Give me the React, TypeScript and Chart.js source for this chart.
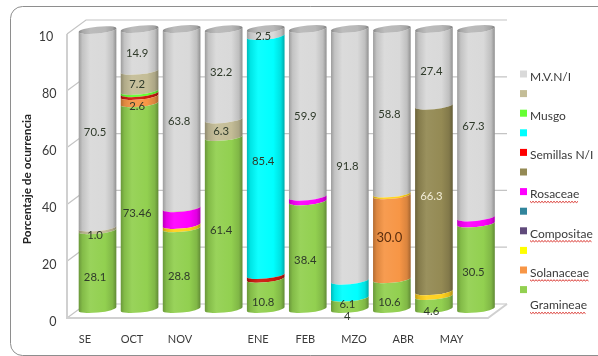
import { useEffect, useRef } from "react";
import { Chart, registerables } from "chart.js";

Chart.register(...registerables);

// Months on the x axis; two bars carry no month name.
const categories = ["SE", "OCT", "NOV", "", "ENE", "FEB", "MZO", "ABR", "MAY", ""];

// Occurrence (%) per food item, bottom of the stack first.
const gramineae = [28.1, 73.46, 28.8, 61.4, 10.8, 38.4, 4, 10.6, 4.6, 30.5];
const solanaceae = [0, 2.6, 0, 0, 0, 0, 0, 30.0, 0, 0];
const sinNombreAmarillo = [0, 0, 1.2, 0, 0, 0, 0, 0.6, 1.7, 0];
const compositae = [0, 0, 0, 0, 0, 0, 0, 0, 0, 0];
const sinNombreAzul = [0, 0, 0, 0, 0, 0, 0, 0, 0, 0];
const rosaceae = [0, 0, 6, 0, 0, 1.7, 0, 0, 0, 2.2];
const sinNombreOliva = [0, 0, 0, 0, 0, 0, 0, 0, 66.3, 0];
const semillas = [0, 1, 0, 0, 1.3, 0, 0, 0, 0, 0];
const sinNombreCian = [0, 0, 0, 0, 85.4, 0, 6.1, 0, 0, 0];
const musgo = [0, 0.8, 0, 0, 0, 0, 0, 0, 0, 0];
const sinNombreTostado = [1.0, 7.2, 0.2, 6.3, 0, 0, 0, 0, 0, 0];
const mvni = [70.5, 14.9, 63.8, 32.2, 2.5, 59.9, 91.8, 58.8, 27.4, 67.3];

// Month captions sit a little off their bars, so they get their own axis (in bar slots).
const monthCaptions = ["SE", "OCT", "NOV", "ENE", "FEB", "MZO", "ABR", "MAY"];
const monthCaptionSlots = [-0.3, 0.82, 1.96, 3.82, 4.94, 6.1, 7.27, 8.42];

const yTickValues = [0, 20, 40, 60, 80, 100];
const yTickLabels = ["0", "20", "40", "60", "80", "10 "];

const FONT = "Lato";
const exactLabels: Record<number, string> = { 4: "4" };
const SMALLEST_CAPTIONED = 0.5;

// The three vertical scales of the 3D box: pixel of value 0 and pixels per unit.
const verticalAxes: Record<string, { zeroAt: number; perUnit: number }> = {
  y: { zeroAt: 309, perUnit: 2.8 },
  yBack: { zeroAt: 304, perUnit: 2.84 },
  yLabel: { zeroAt: 322, perUnit: 2.85 },
};

function valueText(v: number) {
  if (exactLabels[v]) return exactLabels[v];
  const decimals = (String(v).split(".")[1] || "").length;
  return v.toFixed(Math.max(1, decimals));
}

function shade(hex: string, f: number) {
  const n = parseInt(hex.slice(1), 16);
  const c = [(n >> 16) & 255, (n >> 8) & 255, n & 255].map((x) =>
    Math.min(255, Math.round(f >= 1 ? x + (255 - x) * (f - 1) : x * f))
  );
  return `rgb(${c[0]},${c[1]},${c[2]})`;
}

function barGradient(ctx: CanvasRenderingContext2D, x: number, w: number, color: string) {
  const g = ctx.createLinearGradient(x - w / 2, 0, x + w / 2, 0);
  g.addColorStop(0, shade(color, 0.72));
  g.addColorStop(0.1, shade(color, 0.9));
  g.addColorStop(0.3, shade(color, 1.06));
  g.addColorStop(0.7, shade(color, 1));
  g.addColorStop(0.9, shade(color, 0.88));
  g.addColorStop(1, shade(color, 0.66));
  return g;
}

const ELLIPSE_RY = 3.5;
const ELLIPSE_TILT = -0.1;
const FRONT_BULGE = 3.5;
const CAPTION_SHIFT_X = -2.5;

// Small vertical adjustments of value captions, "dataset:bar" -> px.
const captionNudge: Record<string, number> = {
  "0:0": 4, "0:1": 4, "0:2": 4, "0:3": 4, "0:4": 5, "0:5": 2, "0:6": 9, "0:7": 5, "0:8": 5, "0:9": 3,
  "10:0": 3, "11:3": -6, "11:6": 8, "8:6": 12, "6:8": -6, "1:1": 3, "1:7": -3, "8:4": 2,
};

const cylinderPlugin = {
  id: "cylinders",
  afterLayout(chart: any) {
    // Fix each vertical scale to its own pixel mapping within the final chart area.
    const { top, bottom } = chart.chartArea;
    Object.keys(verticalAxes).forEach((id) => {
      const { zeroAt, perUnit } = verticalAxes[id];
      const scale = chart.scales[id];
      scale.min = (zeroAt - bottom) / perUnit;
      scale.max = (zeroAt - top) / perUnit;
      scale.configure();
    });
  },
  beforeDraw(chart: any) {
    const { ctx, scales } = chart;
    ctx.save();
    // Rounded chart frame running off the right edge of the canvas.
    ctx.strokeStyle = "#8e8e8e";
    ctx.lineWidth = 1;
    ctx.beginPath();
    ctx.roundRect(10.5, 6.5, 640, 349, 12);
    ctx.stroke();

    // Walls and floor of the 3D box.
    const back = scales.yBack;
    const dx = 19;
    const dy = 14;
    const left = 67;
    const right = 507;
    ctx.strokeStyle = "#c4c4c4";
    ctx.lineWidth = 1.2;
    yTickValues.forEach((v) => {
      const py = back.getPixelForValue(v);
      ctx.beginPath();
      ctx.moveTo(left, py + dy);
      ctx.lineTo(left + dx, py);
      ctx.lineTo(right, py);
      ctx.stroke();
    });
    const y0 = back.getPixelForValue(0);
    const y100 = back.getPixelForValue(100);
    ctx.strokeStyle = "#d0d0d0";
    ctx.lineWidth = 2;
    ctx.beginPath();
    ctx.moveTo(left, y100 + dy);
    ctx.lineTo(left, y0 + dy);
    ctx.lineTo(right - dx, y0 + dy);
    ctx.lineTo(right, y0);
    ctx.stroke();
    ctx.restore();
  },
  beforeDatasetDraw(chart: any, args: any) {
    const { ctx, scales } = chart;
    const ds = chart.data.datasets[args.index];
    const limit = scales.y.getPixelForValue(100);
    const isTop = args.index === chart.data.datasets.length - 1;
    ctx.save();
    args.meta.data.forEach((el: any, i: number) => {
      if (!ds.data[i]) return;
      const rx = el.width / 2;
      const top = Math.max(el.y, limit);
      const base = Math.max(el.base, limit);
      ctx.fillStyle = barGradient(ctx, el.x, el.width, ds.barColor || ds.backgroundColor);
      ctx.beginPath();
      ctx.ellipse(el.x, top, rx, ELLIPSE_RY, ELLIPSE_TILT, Math.PI, 0, true);
      ctx.ellipse(el.x, base, rx, ELLIPSE_RY, ELLIPSE_TILT, 0, Math.PI, false);
      ctx.closePath();
      ctx.fill();
      if (isTop) {
        ctx.fillStyle = barGradient(ctx, el.x, el.width, "#b8b8b8");
        ctx.beginPath();
        ctx.ellipse(el.x, top, rx, ELLIPSE_RY, ELLIPSE_TILT, 0, Math.PI * 2);
        ctx.fill();
      }
    });
    ctx.restore();
    return false;
  },
  afterDatasetsDraw(chart: any) {
    const { ctx, scales } = chart;
    const limit = scales.y.getPixelForValue(100);
    ctx.save();
    ctx.textAlign = "center";
    ctx.textBaseline = "middle";
    chart.data.datasets.forEach((ds: any, d: number) => {
      if (!ds.showValues) return;
      chart.getDatasetMeta(d).data.forEach((el: any, i: number) => {
        const v = ds.data[i];
        if (!v || v < SMALLEST_CAPTIONED) return;
        const big = v === 30;
        ctx.font = `${big ? 13 : 11.3}px ${FONT}`;
        ctx.fillStyle = big ? "#5c2e0e" : v === 66.3 ? "#f2edd8" : "#2f3a2a";
        const mid = (Math.max(el.y, limit) + el.base) / 2 + FRONT_BULGE;
        ctx.fillText(valueText(v), el.x + CAPTION_SHIFT_X, mid + (captionNudge[`${d}:${i}`] || 0));
      });
    });

    // Legend: one swatch per dataset, last dataset on top.
    const total = chart.data.datasets.length;
    ctx.textAlign = "left";
    ctx.font = `12px ${FONT}`;
    chart.data.datasets.forEach((ds: any, d: number) => {
      const row = total - 1 - d;
      const sy = 74 + row * 19.6;
      ctx.fillStyle = ds.backgroundColor;
      ctx.fillRect(520, sy - 3.5, 7, 7);
      if (!ds.label) return;
      const ty = sy + (ds.legendDrop || 3);
      ctx.fillStyle = "#3a3a3a";
      ctx.fillText(ds.label, 530, ty);
      if (ds.misspelt) {
        // Wavy proofing underline.
        const w = ctx.measureText(ds.label).width;
        ctx.strokeStyle = "#d8302a";
        ctx.lineWidth = 1;
        ctx.beginPath();
        for (let x = 0; x <= w; x += 1.5) {
          const yy = ty + 7 + (Math.round(x / 1.5) % 2 ? 1 : -0.2);
          if (x === 0) ctx.moveTo(530 + x, yy);
          else ctx.lineTo(530 + x, yy);
        }
        ctx.stroke();
      }
    });
    ctx.restore();
  },
};

export default function App() {
  const ref = useRef<HTMLCanvasElement>(null);
  useEffect(() => {
    const chart = new Chart(ref.current as HTMLCanvasElement, {
      type: "bar",
      plugins: [cylinderPlugin],
      data: {
        labels: categories,
        datasets: [
          { label: "Gramineae", data: gramineae, backgroundColor: "#92d050", showValues: true, misspelt: true, legendDrop: 16 },
          { label: "Solanaceae", data: solanaceae, backgroundColor: "#f79646", showValues: true, misspelt: true },
          { label: "", data: sinNombreAmarillo, backgroundColor: "#ffff00", barColor: "#ffd21e" },
          { label: "Compositae", data: compositae, backgroundColor: "#604a7b", misspelt: true },
          { label: "", data: sinNombreAzul, backgroundColor: "#31859c" },
          { label: "Rosaceae", data: rosaceae, backgroundColor: "#ff00ff", misspelt: true },
          { label: "", data: sinNombreOliva, backgroundColor: "#948a54", showValues: true },
          { label: "Semillas N/I", data: semillas, backgroundColor: "#ff0000", barColor: "#cc1a10" },
          { label: "", data: sinNombreCian, backgroundColor: "#00ffff", showValues: true },
          { label: "Musgo", data: musgo, backgroundColor: "#66ff33" },
          { label: "", data: sinNombreTostado, backgroundColor: "#c4bd97", showValues: true },
          { label: "M.V.N/I", data: mvni, backgroundColor: "#d9d9d9", showValues: true },
        ] as any,
      },
      options: {
        responsive: false,
        animation: false,
        events: [],
        layout: { autoPadding: false, padding: { left: 0, top: 20, right: 101, bottom: 0 } },
        datasets: { bar: { barPercentage: 0.9, categoryPercentage: 1 } },
        plugins: { legend: { display: false }, tooltip: { enabled: false }, title: { display: false } },
        scales: {
          x: { type: "category", stacked: true, display: false },
          // Bars, in front of the walls.
          y: { type: "linear", stacked: true, display: false, min: 0, max: 100 },
          // Back wall of the box, carries the grid lines.
          yBack: { type: "linear", display: false, min: 0, max: 100 },
          xCaption: {
            type: "linear",
            position: "bottom",
            offset: false,
            min: -0.5,
            max: 9.5,
            grid: { display: false, drawTicks: false },
            border: { display: false },
            afterBuildTicks(scale: any) {
              scale.ticks = monthCaptionSlots.map((value) => ({ value }));
            },
            afterFit(scale: any) {
              scale.height = 34;
            },
            ticks: {
              autoSkip: false,
              maxRotation: 0,
              padding: 11,
              color: "#3a3a3a",
              font: { family: FONT, size: 11 },
              callback: (v: any) => monthCaptions[monthCaptionSlots.indexOf(v)],
            },
          },
          yLabel: {
            type: "linear",
            position: "left",
            min: 0,
            max: 100,
            grid: { display: false, drawTicks: false },
            border: { display: false },
            afterBuildTicks(scale: any) {
              scale.ticks = yTickValues.map((value) => ({ value }));
            },
            afterFit(scale: any) {
              scale.width = 76.5;
            },
            title: {
              display: true,
              text: "Porcentaje de ocurrencia   ",
              color: "#222222",
              font: { family: FONT, size: 11.8, weight: "bold" },
              padding: { top: 20, bottom: 0 },
            },
            ticks: {
              padding: 20,
              color: "#3a3a3a",
              font: { family: FONT, size: 12.5 },
              callback: (v: any) => yTickLabels[yTickValues.indexOf(v)],
            },
          },
        },
      } as any,
    });
    return () => chart.destroy();
  }, []);
  return (
    <div style={{ position: "absolute", left: 0, top: 0, width: 598, height: 356, background: "#ffffff" }}>
      <canvas ref={ref} width={598} height={356} style={{ display: "block" }} />
    </div>
  );
}
